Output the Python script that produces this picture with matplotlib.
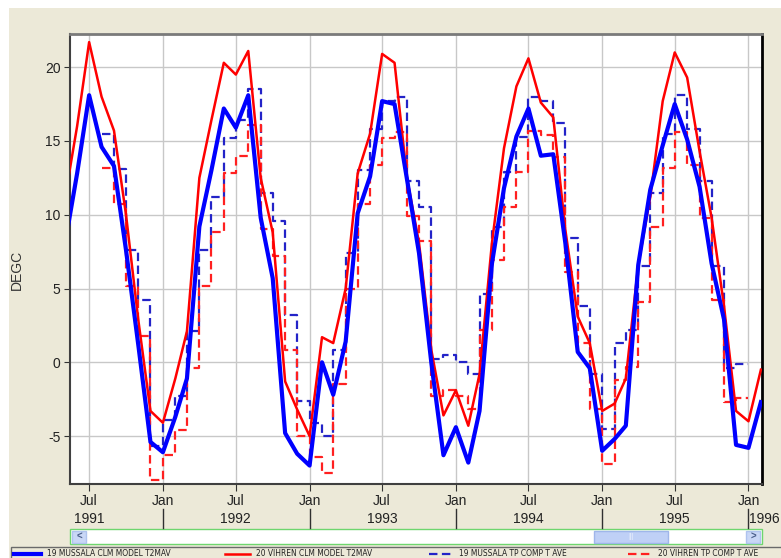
import matplotlib
matplotlib.use('Agg')
import matplotlib.pyplot as plt
import matplotlib.dates as mdates
import matplotlib.transforms as mtransforms
from matplotlib.patches import Rectangle
from matplotlib.lines import Line2D
import pandas as pd

plt.rcParams['font.family'] = ['Liberation Sans', 'DejaVu Sans']
plt.rcParams['axes.unicode_minus'] = False

# 月度数据 1991-05 .. 1996-02 (模型), 1991-08 .. 1995-12 (观测)
model_months = pd.date_range('1991-05-01', '1996-02-01', freq='MS')
obs_months = pd.date_range('1991-08-01', '1996-01-01', freq='MS')

mussala_model = [
    7.9, 12.8, 18.1, 14.6, 13.3, 7.6, 1.1, -5.4,
    -6.1, -3.7, -1.1, 9.2, 13.0, 17.2, 15.9, 18.1, 9.8, 5.7, -4.8, -6.2,
    -7.0, 0.0, -2.2, 1.4, 10.1, 12.6, 17.7, 17.5, 12.4, 7.4, -0.1, -6.3,
    -4.4, -6.8, -3.3, 6.7, 11.8, 15.3, 17.2, 14.0, 14.1, 8.1, 0.7, -0.4,
    -6.0, -5.2, -4.3, 6.6, 11.7, 14.7, 17.5, 15.1, 11.9, 6.7, 2.9, -5.6,
    -5.8, -2.7,
]
vihren_model = [
    11.0, 16.0, 21.7, 18.0, 15.7, 10.0, 2.8, -3.3,
    -4.1, -1.1, 2.1, 12.5, 16.4, 20.3, 19.5, 21.1, 12.5, 8.8, -1.3, -3.2,
    -5.0, 1.7, 1.3, 5.0, 12.8, 15.5, 20.9, 20.3, 12.5, 8.1, 0.8, -3.6,
    -1.9, -4.3, -0.8, 8.1, 14.5, 18.7, 20.6, 17.6, 16.6, 9.0, 3.1, 1.3,
    -3.3, -2.8, -1.1, 6.6, 11.2, 17.7, 21.0, 19.3, 14.3, 9.8, 3.8, -3.3,
    -4.0, -0.5,
]
# 观测值 (最后一个值重复, 用于阶梯线结尾)
mussala_obs = [
    15.5, 13.1, 7.6, 4.2, -5.7,
    -3.9, -2.3, 2.1, 7.6, 11.2, 15.2, 16.4, 18.5, 11.5, 9.6, 3.2, -2.6,
    -4.1, -5.0, 0.8, 7.4, 13.0, 15.8, 17.7, 18.0, 12.3, 10.5, 0.2, 0.5,
    0.0, -0.8, 4.6, 9.2, 12.9, 15.3, 18.0, 17.7, 16.2, 8.4, 3.8, -0.8,
    -4.5, 1.3, 2.2, 6.5, 11.5, 15.5, 18.1, 15.8, 12.3, 6.5, -0.4, -0.1,
    -0.1,
]
vihren_obs = [
    13.2, 10.7, 5.2, 1.8, -8.0,
    -6.3, -4.6, -0.4, 5.2, 8.8, 12.8, 14.0, 16.1, 9.0, 7.2, 0.8, -5.0,
    -6.4, -7.5, -1.5, 5.0, 10.7, 13.4, 15.2, 15.6, 9.9, 8.2, -2.3, -1.9,
    -2.3, -3.2, 2.2, 6.9, 10.5, 12.9, 15.7, 15.4, 13.9, 6.1, 1.3, -3.2,
    -6.9, -1.2, -0.3, 4.1, 9.2, 13.2, 15.6, 13.4, 9.8, 4.2, -2.7, -2.4,
    -2.4,
]
labels = ['19 MUSSALA CLM MODEL T2MAV', '20 VIHREN CLM MODEL T2MAV',
          '19 MUSSALA TP COMP T AVE', '20 VIHREN TP COMP T AVE']
years = ['1991', '1992', '1993', '1994', '1995', '1996']

W, H = 781, 558
BG = '#ECE9D8'


def fx(x):
    return x / W


def fy(y):
    return 1 - y / H


def main():
    fig = plt.figure(figsize=(W / 100, H / 100), dpi=100, facecolor=BG)
    # 白色边
    fig.patches.append(Rectangle((0, fy(8)), 1, 8 / H, transform=fig.transFigure,
                                 facecolor='white', edgecolor='none', zorder=-5))
    fig.patches.append(Rectangle((0, 0), 9 / W, 1, transform=fig.transFigure,
                                 facecolor='white', edgecolor='none', zorder=-5))

    ax = fig.add_axes([fx(70.3), fy(484), (761.7 - 70.3) / W, (484 - 34) / H])
    ax.set_facecolor('white')

    ax.plot(obs_months, mussala_obs, drawstyle='steps-post', color='#2323C8',
            lw=1.6, ls=(0, (3.8, 2.0)), zorder=3)
    ax.plot(obs_months, vihren_obs, drawstyle='steps-post', color='#FF2020',
            lw=1.6, ls=(0, (3.8, 2.0)), zorder=3)
    ax.plot(model_months, vihren_model, color='#FF0000', lw=1.8, zorder=4)
    ax.plot(model_months, mussala_model, color='#0000FF', lw=3.0, zorder=5)

    ax.set_xlim(pd.Timestamp('1991-05-15'), pd.Timestamp('1996-02-03'))
    ax.set_ylim(-8.25, 22.25)
    ax.set_yticks([-5, 0, 5, 10, 15, 20])
    ax.xaxis.set_major_locator(mdates.MonthLocator(bymonth=[1, 7]))
    ax.xaxis.set_major_formatter(mdates.DateFormatter('%b'))
    ax.grid(True, color='#C8C8C8', lw=1)
    ax.set_axisbelow(True)
    ax.tick_params(axis='both', labelsize=10, colors='#333333', labelcolor='#222222')
    ax.tick_params(axis='x', length=5, pad=2)
    ax.tick_params(axis='y', length=4, pad=3)

    ax.spines['top'].set_color('#7A7A7A')
    ax.spines['top'].set_linewidth(2)
    ax.spines['left'].set_color('#404040')
    ax.spines['left'].set_linewidth(1.5)
    ax.spines['bottom'].set_color('#404040')
    ax.spines['bottom'].set_linewidth(1.5)
    ax.spines['right'].set_color('black')
    ax.spines['right'].set_linewidth(2)

    ax.set_ylabel('DEGC', fontsize=10, color='#333333')
    ax.yaxis.set_label_coords((24 - 70.3) / 691.4, (484 - 270) / 450)

    # 年份标签和分隔线
    tr = mtransforms.blended_transform_factory(ax.transData, fig.transFigure)
    for i, yr in enumerate(years):
        if i < len(years) - 1:
            ax.text(pd.Timestamp(yr + '-07-01'), fy(519), yr, transform=tr,
                    ha='center', va='center', fontsize=10, color='#222222', clip_on=False)
        else:
            ax.text(pd.Timestamp(yr + '-01-03'), fy(519), yr, transform=tr,
                    ha='left', va='center', fontsize=10, color='#222222', clip_on=False)
        if i > 0:
            d = pd.Timestamp(yr + '-01-01')
            fig.add_artist(Line2D([mdates.date2num(d)] * 2, [fy(509), fy(528)],
                                  transform=tr, color='#303030', lw=1))

    # 滚动条
    def rect(x0, y0, x1, y1, fc, ec, lw=1):
        fig.patches.append(Rectangle((fx(x0), fy(y1)), (x1 - x0) / W, (y1 - y0) / H,
                                     transform=fig.transFigure, facecolor=fc,
                                     edgecolor=ec, lw=lw))
    rect(70, 529, 762, 544, 'white', '#6ED66E')
    rect(72, 531, 86, 542.5, '#C9D7F6', '#AFC3EE')
    rect(594, 531, 668, 542.5, '#BFD0F6', '#9FB6EA')
    rect(746, 531, 760, 542.5, '#C9D7F6', '#AFC3EE')
    fig.text(fx(79), fy(537), '<', ha='center', va='center', fontsize=7,
             color='#4A5F8A', fontweight='bold')
    fig.text(fx(753), fy(537), '>', ha='center', va='center', fontsize=7,
             color='#4A5F8A', fontweight='bold')
    fig.text(fx(631), fy(537), '|||', ha='center', va='center', fontsize=5,
             color='#E8EEFC')

    # 图例
    rect(11, 546.5, 790, 566, BG, '#6A6A6A')
    styles = [dict(color='#0000FF', lw=3.0, ls='-'),
              dict(color='#FF0000', lw=1.8, ls='-'),
              dict(color='#2323C8', lw=1.6, ls=(0, (3.8, 2.0))),
              dict(color='#FF2020', lw=1.6, ls=(0, (3.8, 2.0)))]
    line_x = [(14, 41), (225, 250), (429, 453), (628, 653)]
    text_x = [47, 256, 459, 658]
    for st, (a, b), tx, lab in zip(styles, line_x, text_x, labels):
        fig.add_artist(Line2D([fx(a), fx(b)], [fy(553.5)] * 2,
                              transform=fig.transFigure, **st))
        fig.text(fx(tx), fy(553), lab, ha='left', va='center', fontsize=6,
                 color='#222222', family='DejaVu Sans', fontstretch='condensed')

    fig.savefig('out.png', dpi=100, facecolor=BG)


if __name__ == '__main__':
    main()
